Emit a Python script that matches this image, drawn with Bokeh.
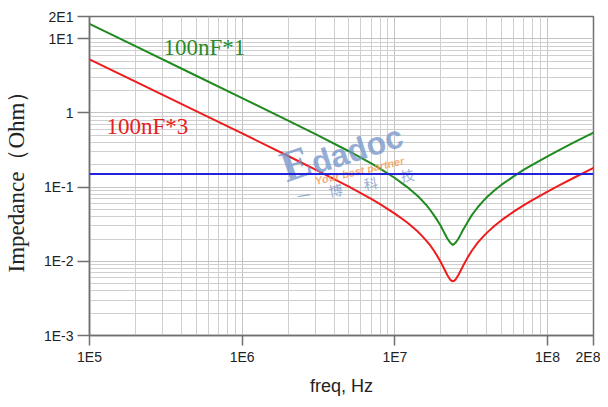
from bokeh.plotting import figure
from bokeh.models import FixedTicker, Span, Label
from bokeh.embed import file_html
from bokeh.resources import INLINE

# ---- data ----
freq_hz = [1e5, 2e5, 5e5, 1e6, 2e6, 3e6, 5e6, 7e6, 8e6, 1e7, 1.2e7, 1.4e7, 1.5e7, 1.6e7, 1.7e7,
           1.8e7, 1.9e7, 2e7, 2.1e7, 2.2e7, 2.3e7, 2.35e7, 2.4e7, 2.45e7, 2.5e7, 2.6e7, 2.7e7,
           2.8e7, 3e7, 3.2e7, 3.5e7, 3.8e7, 4e7, 4.5e7, 5e7, 6e7, 7e7, 8e7, 1e8, 1.2e8, 1.5e8, 2e8]
z_100nf_x1 = [15.9, 7.96, 3.18, 1.59, 0.79, 0.522, 0.305, 0.209, 0.178, 0.133, 0.101, 0.077, 0.067,
              0.058, 0.0496, 0.042, 0.0356, 0.030, 0.0246, 0.0205, 0.018, 0.0172, 0.0167, 0.0172,
              0.0179, 0.020, 0.0231, 0.0267, 0.034, 0.0423, 0.054, 0.0654, 0.073, 0.0906, 0.108,
              0.140, 0.172, 0.202, 0.261, 0.319, 0.404, 0.545]
z_100nf_x3 = [5.30, 2.65, 1.06, 0.530, 0.263, 0.174, 0.1015, 0.0696, 0.0592, 0.044, 0.0336, 0.0256,
              0.0222, 0.0192, 0.0165, 0.014, 0.0117, 0.0097, 0.0080, 0.0066, 0.0057, 0.00548,
              0.0054, 0.00548, 0.0057, 0.0065, 0.00753, 0.0087, 0.0113, 0.0140, 0.018, 0.0217,
              0.0242, 0.0302, 0.0359, 0.0468, 0.0572, 0.0673, 0.0871, 0.1063, 0.135, 0.182]
target_z = 0.15

x_ticks = [1e5, 1e6, 1e7, 1e8, 2e8]
x_tick_labels = ["1E5", "1E6", "1E7", "1E8", "2E8"]
y_ticks = [1e-3, 1e-2, 1e-1, 1, 10, 20]
y_tick_labels = ["1E-3", "1E-2", "1E-1", "1", "1E1", "2E1"]
x_minor = [m * 10 ** e for e in range(5, 8) for m in range(2, 10)]
y_minor = [m * 10.0 ** e for e in range(-3, 1) for m in range(2, 10)]

label_1 = "100nF*1"
label_3 = "100nF*3"

p = figure(width=600, height=399, x_axis_type="log", y_axis_type="log",
           x_range=(1e5, 2e8), y_range=(1e-3, 2e1),
           output_backend="svg", toolbar_location=None,
           min_border_left=88, min_border_right=7, min_border_top=16, min_border_bottom=64)
p.background_fill_color = "white"
p.border_fill_color = "white"
p.outline_line_color = "#707070"
p.outline_line_width = 1.5

for ax, ticks, labels in ((p.xaxis[0], x_ticks, x_tick_labels), (p.yaxis[0], y_ticks, y_tick_labels)):
    ax.ticker = FixedTicker(ticks=ticks)
    ax.major_label_overrides = {t: l for t, l in zip(ticks, labels)}
    ax.major_label_text_font = "Liberation Sans"
    ax.major_label_text_font_size = "14px"
    ax.major_label_text_color = "#222222"
    ax.axis_line_color = "#707070"
    ax.axis_line_width = 1.5
    ax.major_tick_line_color = "#707070"
    ax.major_tick_line_width = 1.5
    ax.major_tick_in = 0
    ax.minor_tick_line_color = None

p.xaxis.major_tick_out = 10
p.xaxis.major_label_standoff = 3
p.yaxis.major_tick_out = 12
p.yaxis.major_label_standoff = 4

p.xaxis.axis_label = "freq, Hz"
p.xaxis.axis_label_text_font = "Liberation Sans"
p.xaxis.axis_label_text_font_size = "18px"
p.xaxis.axis_label_text_font_style = "normal"
p.xaxis.axis_label_text_color = "#222222"
p.xaxis.axis_label_standoff = 8

p.yaxis.axis_label = "Impedance（Ohm）"
p.yaxis.axis_label_text_font = "Liberation Serif"
p.yaxis.axis_label_text_font_size = "23px"
p.yaxis.axis_label_text_font_style = "normal"
p.yaxis.axis_label_text_color = "#222222"
p.yaxis.axis_label_standoff = 12

p.xgrid.ticker = FixedTicker(ticks=x_ticks, minor_ticks=x_minor)
p.ygrid.ticker = FixedTicker(ticks=y_ticks, minor_ticks=y_minor)
for g in (p.xgrid[0], p.ygrid[0]):
    g.grid_line_color = "#c4c4c4"
    g.grid_line_width = 1
    g.minor_grid_line_color = "#cfcfcf"
    g.minor_grid_line_width = 1

# watermark
wm_blue = "#7394c8"
p.add_layout(Label(x=2.05e6, y=0.086, text="E", text_font="Liberation Serif",
                   text_font_style="bold", text_font_size="44px", text_color=wm_blue,
                   text_alpha=0.75, angle=0.33))
p.add_layout(Label(x=3.12e6, y=0.121, text="dadoc", text_font="Liberation Sans",
                   text_font_style="bold", text_font_size="32px", text_color=wm_blue,
                   text_alpha=0.75, angle=0.31))
p.add_layout(Label(x=3.07e6, y=0.1005, text="Your best partner", text_font="Liberation Sans",
                   text_font_style="bold italic", text_font_size="11px", text_color="#f5a05a",
                   text_alpha=0.85, angle=0.23))
for cx, cy, ch in ((2.34e6, 0.0556, "一"), (3.79e6, 0.0650, "博"),
                   (6.41e6, 0.0807, "科"), (1.117e7, 0.1037, "技")):
    p.add_layout(Label(x=cx, y=cy, text=ch, text_font="Noto Sans CJK SC",
                       text_font_size="14px", text_color=wm_blue, text_alpha=0.75, angle=0.17))

p.add_layout(Span(location=target_z, dimension="width", line_color="#2222dd", line_width=2))
p.line(freq_hz, z_100nf_x1, line_color="#1f8a1f", line_width=2)
p.line(freq_hz, z_100nf_x3, line_color="#ee1c1c", line_width=2)

p.add_layout(Label(x=3.05e5, y=7.6, text=label_1, text_font="Liberation Serif",
                   text_font_size="23px", text_color="#2a8a2a", text_baseline="alphabetic"))
p.add_layout(Label(x=1.29e5, y=0.65, text=label_3, text_font="Liberation Serif",
                   text_font_size="23px", text_color="#e62020", text_baseline="alphabetic"))

open("out.html", "w").write(file_html(p, INLINE))
